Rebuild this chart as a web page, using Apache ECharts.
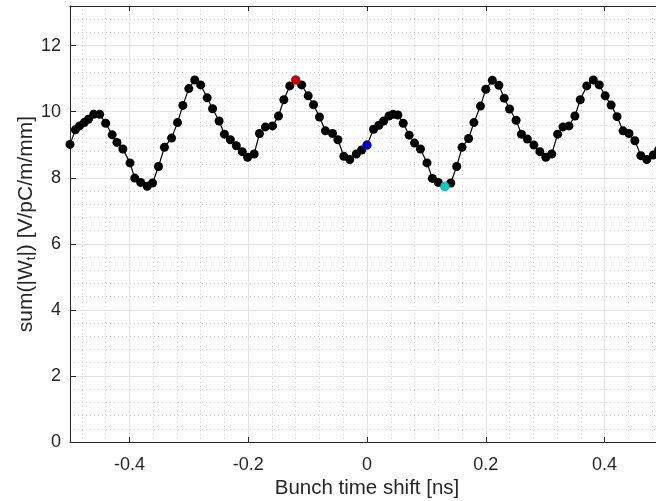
<!DOCTYPE html>
<html>
<head>
<meta charset="utf-8">
<script src="https://cdn.jsdelivr.net/npm/echarts@6/dist/echarts.min.js"></script>
<style>
html,body{margin:0;padding:0;background:#fff;}
#c{width:656px;height:501px;}
</style>
</head>
<body>
<div id="c"></div>
<script>
// ---- data ----
const xs = [-0.500,-0.491,-0.484,-0.476,-0.469,-0.460,-0.450,-0.440,-0.429,-0.421,-0.411,-0.399,-0.391,-0.381,-0.370,-0.361,-0.351,-0.341,-0.329,-0.319,-0.310,-0.300,-0.290,-0.280,-0.269,-0.260,-0.249,-0.240,-0.230,-0.220,-0.210,-0.201,-0.190,-0.181,-0.171,-0.159,-0.149,-0.140,-0.130,-0.120,-0.110,-0.099,-0.090,-0.080,-0.070,-0.058,-0.049,-0.039,-0.029,-0.018,-0.009,
  0.000,0.011,0.020,0.028,0.037,0.044,0.052,0.061,0.071,0.080,0.090,0.101,0.110,0.120,0.131,0.141,0.151,0.160,0.171,0.180,0.191,0.200,0.211,0.222,0.231,0.240,0.251,0.260,0.270,0.281,0.291,0.301,0.311,0.321,0.330,0.340,0.350,0.359,0.370,0.381,0.391,0.401,0.411,0.421,0.431,0.441,0.451,0.461,0.471,0.482,0.491,0.500];
const ys = [9.01,9.45,9.57,9.67,9.77,9.92,9.92,9.65,9.30,9.07,8.87,8.45,7.99,7.86,7.74,7.84,8.34,8.92,9.20,9.67,10.19,10.70,10.96,10.81,10.42,10.09,9.72,9.32,9.15,8.97,8.79,8.62,8.72,9.34,9.54,9.57,9.87,10.36,10.78,10.96,10.81,10.48,10.21,9.84,9.42,9.34,9.15,8.65,8.55,8.72,8.84,
  8.99,9.47,9.59,9.72,9.87,9.92,9.90,9.65,9.29,9.05,8.87,8.45,7.98,7.86,7.74,7.84,8.34,8.92,9.19,9.67,10.17,10.68,10.95,10.80,10.41,10.08,9.74,9.32,9.17,8.99,8.79,8.62,8.72,9.32,9.54,9.57,9.87,10.36,10.78,10.96,10.81,10.48,10.20,9.85,9.42,9.34,9.12,8.67,8.55,8.69,8.84,8.99];
const redPoint  = [-0.120, 10.96];
const bluePoint = [0.000, 8.99];
const cyanPoint = [0.131, 7.74];

const xMajorTicks = [-0.4,-0.2,0,0.2,0.4];
const xMinorTicks = [-0.48,-0.44,-0.36,-0.32,-0.28,-0.24,-0.16,-0.12,-0.08,-0.04,0.04,0.08,0.12,0.16,0.24,0.28,0.32,0.36,0.44,0.48];
const yMajorTicks = [0,2,4,6,8,10,12];
const yMinorTicks = [0.4,0.8,1.2,1.6,2.4,2.8,3.2,3.6,4.4,4.8,5.2,5.6,6.4,6.8,7.2,7.6,8.4,8.8,9.2,9.6,10.4,10.8,11.2,11.6,12.4,12.8];
const xLimits = [-0.5, 0.5];
const yLimits = [0, 13.2];
const xTitle = 'Bunch time shift [ns]';

// ---- chart ----
const FONT = 'Liberation Sans';
const TXT = '#262626';
const AX = '#262626';
const chart = echarts.init(document.getElementById('c'), null, {renderer: 'canvas'});
const pts = xs.map((x, i) => [x, ys[i]]);

const option = {
  animation: false,
  backgroundColor: '#ffffff',
  grid: {left: 70, top: 6, right: -8, bottom: 59, containLabel: false, outerBoundsMode: 'none'},
  xAxis: [
    {
      type: 'value', position: 'bottom', min: xLimits[0], max: xLimits[1],
      name: xTitle, nameLocation: 'middle', nameGap: 36, nameMoveOverlap: false,
      nameTextStyle: {fontFamily: FONT, fontSize: 20.5, color: TXT},
      axisLine: {show: true, onZero: false, lineStyle: {color: AX, width: 1}},
      axisTick: {show: true, inside: true, length: 5, customValues: xMajorTicks, lineStyle: {color: AX}},
      axisLabel: {show: true, customValues: xMajorTicks, margin: 14, fontFamily: FONT, fontSize: 18, color: TXT,
        formatter: v => String(Math.round(v * 10) / 10)},
      splitLine: {show: true, lineStyle: {color: '#e3e3e3', width: 1}},
      z: 3
    },
    {
      type: 'value', position: 'top', min: xLimits[0], max: xLimits[1],
      axisLine: {show: true, onZero: false, lineStyle: {color: AX, width: 1}},
      axisTick: {show: true, inside: true, length: 5, customValues: xMajorTicks, lineStyle: {color: AX}},
      axisLabel: {show: false},
      splitLine: {show: false},
      z: 3
    },
    {
      type: 'value', position: 'bottom', min: xLimits[0], max: xLimits[1],
      axisLine: {show: false, onZero: false},
      axisTick: {show: false, customValues: xMinorTicks},
      axisLabel: {show: false},
      splitLine: {show: true, lineStyle: {color: '#cfcfcf', width: 1, type: [1, 3]}},
      z: 1
    }
  ],
  yAxis: [
    {
      type: 'value', position: 'left', min: yLimits[0], max: yLimits[1],
      name: '{a|sum(|W}{s|t}{a||) [V/pC/m/mm]}', nameLocation: 'middle', nameGap: 32, nameRotate: 90,
      nameMoveOverlap: false,
      nameTextStyle: {
        fontFamily: FONT, fontSize: 21, color: TXT,
        rich: {
          a: {fontFamily: FONT, fontSize: 21, color: TXT, lineHeight: 24},
          s: {fontFamily: FONT, fontSize: 13, color: TXT, lineHeight: 14, verticalAlign: 'bottom'}
        }
      },
      axisLine: {show: true, onZero: false, lineStyle: {color: AX, width: 1}},
      axisTick: {show: true, inside: true, length: 6, customValues: yMajorTicks, lineStyle: {color: AX}},
      axisLabel: {show: true, customValues: yMajorTicks, margin: 9, fontFamily: FONT, fontSize: 18, color: TXT},
      splitLine: {show: true, lineStyle: {color: '#e3e3e3', width: 1}},
      z: 3
    },
    {
      type: 'value', position: 'left', min: yLimits[0], max: yLimits[1],
      axisLine: {show: false, onZero: false},
      axisTick: {show: false, customValues: yMinorTicks},
      axisLabel: {show: false},
      splitLine: {show: true, lineStyle: {color: '#cfcfcf', width: 1, type: [1, 3]}},
      z: 1
    }
  ],
  series: [
    {
      type: 'line', xAxisIndex: 0, yAxisIndex: 0, data: pts,
      symbol: 'circle', symbolSize: 9, showAllSymbol: true,
      itemStyle: {color: '#000000'},
      lineStyle: {color: '#000000', width: 1.2},
      z: 5, clip: true
    },
    {
      type: 'scatter', xAxisIndex: 0, yAxisIndex: 0, data: [redPoint],
      symbol: 'circle', symbolSize: 9, itemStyle: {color: '#ff0000'}, z: 6
    },
    {
      type: 'scatter', xAxisIndex: 0, yAxisIndex: 0, data: [bluePoint],
      symbol: 'circle', symbolSize: 9, itemStyle: {color: '#0000ff'}, z: 6
    },
    {
      type: 'scatter', xAxisIndex: 0, yAxisIndex: 0, data: [cyanPoint],
      symbol: 'circle', symbolSize: 9, itemStyle: {color: '#00ffff'}, z: 6
    }
  ]
};
chart.setOption(option);
</script>
</body>
</html>
